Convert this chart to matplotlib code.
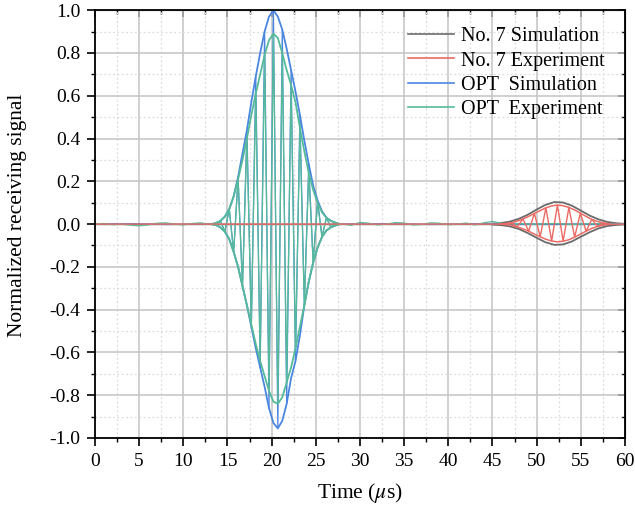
import numpy as np
import matplotlib
matplotlib.use("Agg")
import matplotlib.pyplot as plt
from matplotlib.ticker import MultipleLocator, FormatStrFormatter, NullFormatter

plt.rcParams['font.family'] = ['Liberation Serif', 'DejaVu Serif']
plt.rcParams['mathtext.fontset'] = 'stix'

# ---------------- data ----------------
labels = ["No. 7 Simulation", "No. 7 Experiment", "OPT  Simulation", "OPT  Experiment"]

# OPT burst: envelope grid (us); extrema alternate upper (even idx) / lower (odd idx)
opt_t = [13.2, 13.7, 14.2, 14.7, 15.2, 15.7, 16.2, 16.7, 17.2, 17.7,
         18.2, 18.7, 19.2, 19.7, 20.2, 20.7, 21.2, 21.7, 22.2, 22.7,
         23.2, 23.7, 24.2, 24.7, 25.2, 25.7, 26.2, 26.7, 27.2, 27.7]
opt_sim_up = [0.0, 0.005, 0.015, 0.035, 0.07, 0.13, 0.22, 0.33, 0.44, 0.57,
              0.69, 0.80, 0.90, 0.97, 1.0, 0.97, 0.91, 0.82, 0.72, 0.62,
              0.51, 0.39, 0.28, 0.18, 0.11, 0.06, 0.03, 0.015, 0.007, 0.0]
opt_sim_low = [0.0, -0.005, -0.015, -0.035, -0.07, -0.13, -0.20, -0.29, -0.38, -0.48,
               -0.58, -0.67, -0.76, -0.86, -0.93, -0.955, -0.92, -0.84, -0.72, -0.64,
               -0.52, -0.38, -0.27, -0.18, -0.11, -0.06, -0.03, -0.015, -0.007, 0.0]
opt_exp_up = [0.0, 0.005, 0.015, 0.035, 0.07, 0.13, 0.21, 0.30, 0.40, 0.51,
              0.61, 0.70, 0.79, 0.86, 0.89, 0.87, 0.80, 0.72, 0.65, 0.57,
              0.45, 0.34, 0.24, 0.16, 0.10, 0.055, 0.03, 0.015, 0.007, 0.0]
opt_exp_low = [0.0, -0.005, -0.015, -0.035, -0.07, -0.13, -0.20, -0.29, -0.38, -0.47,
               -0.56, -0.64, -0.71, -0.78, -0.83, -0.84, -0.81, -0.74, -0.67, -0.58,
               -0.48, -0.38, -0.27, -0.18, -0.11, -0.06, -0.03, -0.015, -0.007, 0.0]

# OPT baseline (outside burst)
opt_exp_base_t = [0, 1, 2, 3, 4, 5, 6, 7, 8, 9, 10, 11, 12, 12.7,
                  28.2, 29, 30, 31, 32, 33, 34, 35, 36, 37, 38, 39, 40, 41, 42, 43,
                  44, 45, 46, 47, 48, 49, 50, 52, 54, 56, 58, 60]
opt_exp_base_v = [0, 0.003, -0.003, 0.0, -0.005, -0.008, -0.004, 0.004, 0.006, 0.0,
                  -0.004, 0.003, 0.006, 0.0,
                  0.0, -0.006, 0.008, 0.004, -0.004, 0.0, 0.007, 0.005, -0.004, -0.002,
                  0.006, 0.004, -0.003, 0.0, 0.005, -0.004, 0.006, 0.012, 0.004, -0.006,
                  0.003, 0.0, 0.0, 0.003, -0.002, 0.002, 0.0, 0.0]
opt_sim_base_t = [0, 4, 8, 12.7, 28.2, 33, 38, 43, 48, 54, 60]
opt_sim_base_v = [0, 0.002, -0.002, 0.0, 0.0, 0.002, -0.002, 0.002, 0.0, 0.0, 0.0]

# No. 7 burst (experiment): envelope grid; extrema alternate upper (even idx) / lower (odd idx)
n7_t = [45.85, 46.5, 47.15, 47.8, 48.45, 49.1, 49.75, 50.4, 51.05, 51.7,
        52.35, 53.0, 53.65, 54.3, 54.95, 55.6, 56.25, 56.9, 57.55, 58.2]
n7_exp_up = [0.0, 0.002, 0.006, 0.014, 0.024, 0.036, 0.050, 0.063, 0.076, 0.085,
             0.089, 0.086, 0.078, 0.066, 0.051, 0.036, 0.022, 0.012, 0.005, 0.001]
n7_exp_low = [0.0, -0.002, -0.006, -0.013, -0.022, -0.033, -0.047, -0.059, -0.071, -0.079,
              -0.083, -0.080, -0.073, -0.061, -0.047, -0.033, -0.020, -0.011, -0.005, -0.001]

# No. 7 simulation envelope
n7_sim_t = [45, 46, 47, 48, 49, 50, 51, 52, 53, 54, 55, 56, 57, 58, 59, 60]
n7_sim_up = [0.002, 0.005, 0.012, 0.025, 0.044, 0.068, 0.090, 0.103, 0.101, 0.086,
             0.063, 0.040, 0.022, 0.010, 0.004, 0.001]
n7_sim_low = [-0.002, -0.005, -0.011, -0.023, -0.042, -0.064, -0.085, -0.097, -0.095, -0.081,
              -0.059, -0.038, -0.020, -0.009, -0.004, -0.001]

# ---------------- build drawable series ----------------
def alternate(up, low, first_up=True):
    out = []
    for i in range(len(up)):
        use_up = (i % 2 == 0) == first_up
        out.append(up[i] if use_up else low[i])
    return out

def join(bt, bv, t, v, split):
    bt = np.asarray(bt); bv = np.asarray(bv)
    pre = bt < split[0]
    post = bt > split[1]
    return (np.concatenate([bt[pre], t, bt[post]]),
            np.concatenate([bv[pre], v, bv[post]]))

opt_exp_t_all, opt_exp_v_all = join(opt_exp_base_t, opt_exp_base_v, opt_t,
                                    alternate(opt_exp_up, opt_exp_low), (13.2, 27.7))
opt_sim_t_all, opt_sim_v_all = join(opt_sim_base_t, opt_sim_base_v, opt_t,
                                    alternate(opt_sim_up, opt_sim_low), (13.2, 27.7))
n7_exp_t_all = np.concatenate([[0], n7_t, [60]])
n7_exp_v_all = np.concatenate([[0], alternate(n7_exp_up, n7_exp_low), [0]])
n7_sim_t_all = np.concatenate([[0], n7_sim_t])
n7_sim_v_all = np.concatenate([[0], np.zeros(len(n7_sim_t))])

c_grey = '#6b6b6b'
c_red = '#ec6a64'
c_blue = '#4a86e0'
c_green = '#55ba98'

# ---------------- figure ----------------
fig = plt.figure(figsize=(6.35, 5.11), dpi=100)
ax = fig.add_axes([0.1496, 0.1429, 0.8346, 0.8371])

ax.set_xlim(0, 60)
ax.set_ylim(-1.0, 1.0)
ax.xaxis.set_major_locator(MultipleLocator(5))
ax.xaxis.set_minor_locator(MultipleLocator(2.5))
ax.yaxis.set_major_locator(MultipleLocator(0.2))
ax.yaxis.set_minor_locator(MultipleLocator(0.1))
ax.yaxis.set_major_formatter(FormatStrFormatter('%.1f'))
ax.xaxis.set_major_formatter(FormatStrFormatter('%d'))

ax.grid(which='major', color='#c4c4c4', lw=1.1, ls='-', zorder=0)
ax.grid(which='minor', color='#dcdcdc', lw=0.9, ls=(0, (1.5, 2)), zorder=0)
ax.set_axisbelow(True)

# No. 7 simulation
l1, = ax.plot(n7_sim_t_all, n7_sim_v_all, color=c_grey, lw=1.0, label=labels[0])
ax.plot(n7_sim_t, n7_sim_up, color=c_grey, lw=1.3)
ax.plot(n7_sim_t, n7_sim_low, color=c_grey, lw=1.3)

# OPT simulation
l3, = ax.plot(opt_sim_t_all, opt_sim_v_all, color=c_blue, lw=0.9, label=labels[2])
ax.plot(opt_t, opt_sim_up, color=c_blue, lw=1.3)
ax.plot(opt_t, opt_sim_low, color=c_blue, lw=1.3)

# OPT experiment
l4, = ax.plot(opt_exp_t_all, opt_exp_v_all, color=c_green, lw=0.9, label=labels[3])
ax.plot(opt_t, opt_exp_up, color=c_green, lw=1.3)
ax.plot(opt_t, opt_exp_low, color=c_green, lw=1.3)

# No. 7 experiment
l2, = ax.plot(n7_exp_t_all, n7_exp_v_all, color=c_red, lw=1.0, label=labels[1])
ax.plot(n7_t, n7_exp_up, color=c_red, lw=1.1)
ax.plot(n7_t, n7_exp_low, color=c_red, lw=1.1)

for s in ax.spines.values():
    s.set_linewidth(1.3)
    s.set_color('black')

ax.tick_params(which='major', direction='out', length=5.5, width=1.2, labelsize=14, pad=5)
ax.tick_params(which='minor', direction='out', length=3, width=1.0)

# mirrored ticks on top/right (inward, no labels)
secx = ax.secondary_xaxis('top')
secx.xaxis.set_major_locator(MultipleLocator(5))
secx.xaxis.set_minor_locator(MultipleLocator(2.5))
secx.xaxis.set_major_formatter(NullFormatter())
secx.tick_params(which='major', direction='in', length=5, width=1.2)
secx.tick_params(which='minor', direction='in', length=3, width=1.0)
secy = ax.secondary_yaxis('right')
secy.yaxis.set_major_locator(MultipleLocator(0.2))
secy.yaxis.set_minor_locator(MultipleLocator(0.1))
secy.yaxis.set_major_formatter(NullFormatter())
secy.tick_params(which='major', direction='in', length=5, width=1.2)
secy.tick_params(which='minor', direction='in', length=3, width=1.0)

xl = ax.set_xlabel(r'Time ($\mu$s)', fontsize=15.5)
xl.set_va('center')
ax.xaxis.set_label_coords(0.5, -0.128)
yl = ax.set_ylabel('Normalized receiving signal', fontsize=15.5)
yl.set_va('center')
ax.yaxis.set_label_coords(-0.147, 0.52)

leg = ax.legend(handles=[l1, l2, l3, l4], loc='upper left', bbox_to_anchor=(0.57, 0.986),
                frameon=False, fontsize=14.5, handlelength=2.3, handletextpad=0.3,
                labelspacing=0.25, borderaxespad=0.25, borderpad=0.3)
for h in leg.get_lines():
    h.set_linewidth(1.2)

fig.savefig('out.png', dpi=100)
